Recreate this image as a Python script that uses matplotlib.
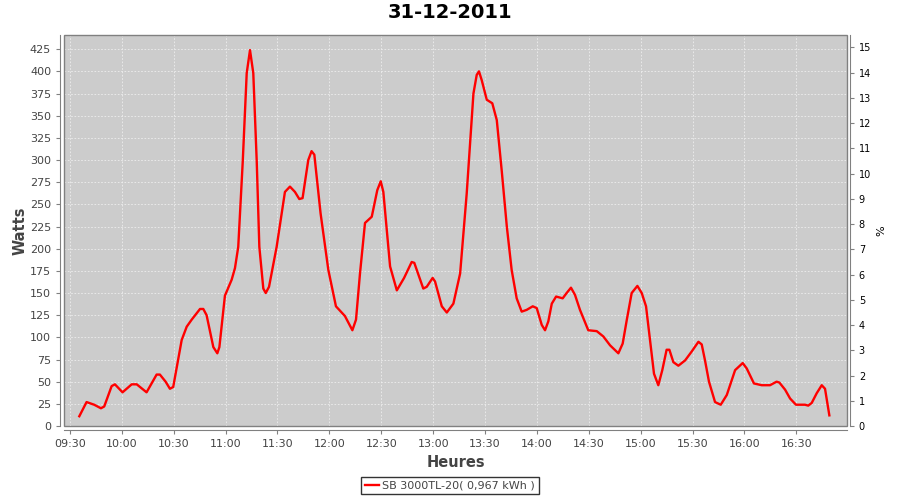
import matplotlib
matplotlib.use("Agg")
import matplotlib.pyplot as plt
from matplotlib.patches import Rectangle

# minutes after 09:30 and power in watts
minutes = [5.4, 9.6, 14, 17.9, 19.8, 24.1, 26, 30.4, 35.7, 38.6, 44.3, 50.1, 52, 55.3,
           57.8, 59.7, 64.6, 67.5, 70.4, 75.2, 77.1, 79, 82.9, 85.2, 86.4, 89.6, 93.5,
           95.4, 97.3, 99.9, 102.2, 104.1, 106, 108, 109.5, 111.8, 113.2, 115.1, 119.5,
           124.3, 127.2, 130.1, 132.6, 134.5, 137.8, 139.7, 141.3, 144.9, 149.4, 153.8,
           159, 163.3, 165.4, 167.7, 170.6, 174.5, 177.7, 179.7, 181.2, 185.1, 189,
           193.2, 197.6, 199.1, 204.3, 206.3, 209.7, 211.1, 215, 217.9, 221.7, 225.6,
           229.4, 233.3, 235.2, 236.5, 238.1, 241, 244.2, 246.8, 249.7, 252.6, 255.4,
           258.3, 261.2, 264.1, 267.6, 269.9, 272.8, 274.7, 276.6, 278.6, 281.1, 284.9,
           287.2, 289.7, 292, 294.9, 299.7, 304.6, 308.4, 312.3, 317.1, 319.6, 322,
           324.8, 328.1, 330.6, 333.1, 335.4, 337.7, 340.2, 342.5, 345, 346.6, 348.9,
           351.8, 355.7, 359.5, 363.4, 365.3, 367.2, 369.5, 373, 376.3, 379.8, 384.6,
           389, 391.3, 395.5, 400, 404.8, 408.6, 410.2, 413.5, 416.4, 419.8, 425, 426.9,
           428.9, 431.8, 434.7, 436.6, 439.1]
watts = [11, 27, 24, 20, 22, 45, 47, 38, 47, 47, 38, 58, 58, 50,
         42, 44, 97, 112, 120, 132, 132, 125, 89, 82, 89, 147, 165,
         178, 202, 298, 398, 424, 398, 298, 202, 155, 150, 157, 202,
         264, 270, 264, 256, 257, 300, 310, 306, 240, 176, 135,
         124, 108, 120, 172, 229, 236, 266, 276, 264, 180, 153,
         167, 185, 184, 155, 157, 167, 163, 135, 128, 138, 172,
         262, 375, 396, 400, 390, 368, 364, 345, 287, 225, 176,
         144, 129, 131, 135, 133, 114, 108, 118, 138, 146, 144,
         150, 156, 148, 131, 108, 107, 101, 91, 82, 93, 120,
         150, 158, 150, 135, 97, 59, 46, 63, 86, 86, 72,
         68, 74, 84, 95, 92, 74, 50, 27, 24, 35, 63,
         71, 65, 48, 46, 46, 50, 49, 41, 31, 24, 24, 23,
         26, 37, 46, 42, 12]

watt_ticks = list(range(0, 426, 25))
pct_ticks = list(range(0, 16))
time_ticks = [0, 30, 60, 90, 120, 150, 180, 210, 240, 270, 300, 330, 360, 390, 420]
time_labels = ["09:30", "10:00", "10:30", "11:00", "11:30", "12:00", "12:30", "13:00",
               "13:30", "14:00", "14:30", "15:00", "15:30", "16:00", "16:30"]

series_name = "SB 3000TL-20( 0,967 kWh )"
title = "31-12-2011"

axis_grey = "#808080"
text_grey = "#444444"

fig = plt.figure(figsize=(9, 5), dpi=100, facecolor="white")
ax = fig.add_axes([0.0714, 0.148, 0.8697, 0.782])
ax.set_facecolor("#cccccc")

ax.plot(minutes, watts, color="red", lw=1.7, solid_joinstyle="round", zorder=3)

ax.set_xlim(-3.3, 449.3)
ax.set_ylim(0, 441)
ax.set_xticks(time_ticks)
ax.set_xticklabels(time_labels)
ax.set_yticks(watt_ticks)
ax.grid(True, color="#eeeeee", linestyle=(0, (2, 2)), linewidth=0.6)
ax.set_axisbelow(True)

# plot border plus JFreeChart style offset axis lines
ax.add_patch(Rectangle((0, 0), 1, 1, transform=ax.transAxes, fill=False,
                       edgecolor=axis_grey, lw=1.0, zorder=5, clip_on=False))
ax.spines["top"].set_visible(False)
ax.spines["right"].set_visible(False)
for side in ["left", "bottom"]:
    ax.spines[side].set_position(("outward", 3))
    ax.spines[side].set_color(axis_grey)
ax.tick_params(axis="both", colors=axis_grey, labelcolor=text_grey, labelsize=8,
               length=3, width=0.8)

ax.set_xlabel("Heures", fontsize=10.5, color=text_grey, fontweight="bold", labelpad=4)
ax.set_ylabel("Watts", fontsize=10.5, color=text_grey, fontweight="bold", labelpad=1.5)

ax2 = ax.twinx()
ax2.set_ylim(0, 15.49)
ax2.set_yticks(pct_ticks)
for side in ["left", "bottom", "top"]:
    ax2.spines[side].set_visible(False)
ax2.spines["right"].set_position(("outward", 2))
ax2.spines["right"].set_color(axis_grey)
ax2.tick_params(axis="y", colors=axis_grey, labelcolor="black", labelsize=7,
                length=3, width=0.8)
ax2.set_ylabel("%", fontsize=8, color="black", labelpad=4)

fig.suptitle(title, fontsize=14, fontweight="bold", y=0.995)

leg = fig.legend([ax.lines[0]], [series_name], loc="lower center",
                 bbox_to_anchor=(0.5, 0.0), fontsize=8, frameon=True, fancybox=False,
                 handlelength=1.2, handletextpad=0.3, borderpad=0.35, labelcolor=text_grey)
leg.get_frame().set_edgecolor("black")
leg.get_frame().set_linewidth(1.0)

fig.savefig("out.png", dpi=100, facecolor="white")
